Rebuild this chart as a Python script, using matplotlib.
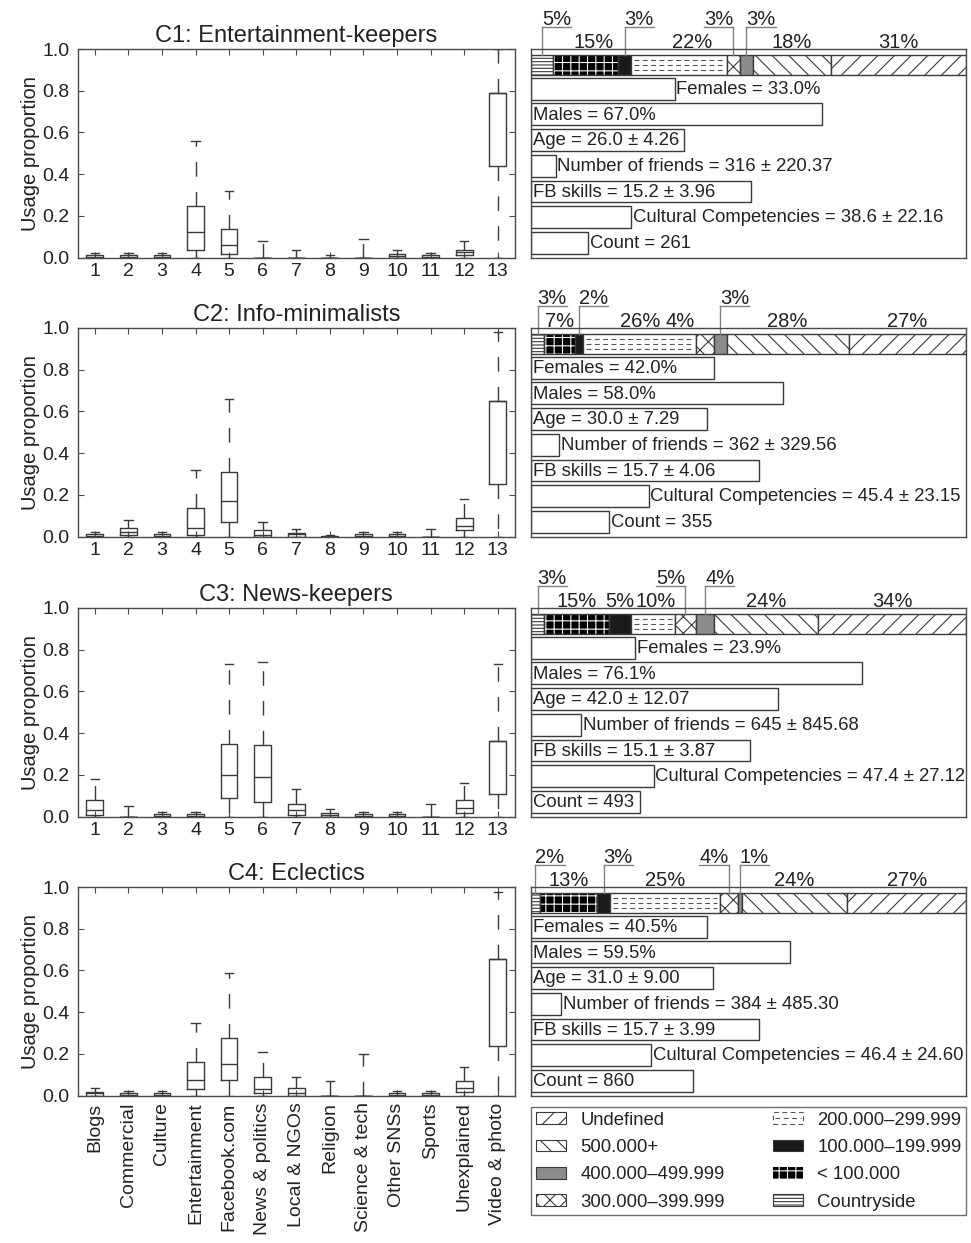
import matplotlib
matplotlib.use("Agg")
import matplotlib.pyplot as plt
from matplotlib.patches import Patch, Rectangle
from matplotlib.lines import Line2D
from matplotlib.legend_handler import HandlerBase

plt.rcParams["font.family"] = ["Liberation Sans", "DejaVu Sans"]
plt.rcParams["hatch.linewidth"] = 0.8
plt.rcParams["lines.scale_dashes"] = False

W, H, DPI = 971, 1243, 100
TEXT = "#222222"
LINE = "#3a3a3a"
SPINE = "#4a4a4a"
LEADER = "#808080"
DASHED = (0, (3.5, 2.5))

# ---- data -------------------------------------------------------------
clusters = ["C1: Entertainment-keepers", "C2: Info-minimalists",
            "C3: News-keepers", "C4: Eclectics"]
categories = ["Blogs", "Commercial", "Culture", "Entertainment", "Facebook.com",
              "News & politics", "Local & NGOs", "Religion", "Science & tech",
              "Other SNSs", "Sports", "Unexplained", "Video & photo"]

# usage proportion box statistics (lower whisker is 0 everywhere)
whisker_low = [0.0] * 13
c1_q1 = [0.0, 0.0, 0.0, 0.038, 0.019, 0.0, 0.0, 0.0, 0.0, 0.0, 0.0, 0.011, 0.44]
c1_med = [0.003, 0.003, 0.003, 0.12, 0.059, 0.0, 0.0, 0.0, 0.0, 0.005, 0.003, 0.027, 0.79]
c1_q3 = [0.011, 0.011, 0.011, 0.248, 0.139, 0.0, 0.0, 0.0, 0.0, 0.019, 0.01, 0.038, 0.79]
c1_hi = [0.021, 0.021, 0.021, 0.56, 0.32, 0.079, 0.038, 0.01, 0.088, 0.038, 0.021, 0.079, 1.0]

c2_q1 = [0.0, 0.008, 0.0, 0.008, 0.069, 0.0, 0.0, 0.0, 0.0, 0.0, 0.0, 0.029, 0.254]
c2_med = [0.003, 0.021, 0.003, 0.04, 0.168, 0.008, 0.01, 0.0, 0.003, 0.003, 0.0, 0.05, 0.648]
c2_q3 = [0.011, 0.04, 0.011, 0.138, 0.307, 0.029, 0.019, 0.002, 0.011, 0.011, 0.0, 0.088, 0.648]
c2_hi = [0.021, 0.078, 0.021, 0.318, 0.659, 0.069, 0.038, 0.008, 0.021, 0.021, 0.038, 0.179, 0.979]

c3_q1 = [0.008, 0.0, 0.0, 0.0, 0.088, 0.069, 0.008, 0.0, 0.0, 0.0, 0.0, 0.019, 0.11]
c3_med = [0.032, 0.0, 0.003, 0.003, 0.2, 0.189, 0.029, 0.008, 0.003, 0.003, 0.0, 0.04, 0.36]
c3_q3 = [0.08, 0.0, 0.011, 0.011, 0.35, 0.341, 0.059, 0.019, 0.011, 0.011, 0.0, 0.08, 0.36]
c3_hi = [0.179, 0.05, 0.021, 0.021, 0.73, 0.739, 0.13, 0.038, 0.021, 0.021, 0.059, 0.16, 0.73]

c4_q1 = [0.0, 0.0, 0.0, 0.029, 0.072, 0.01, 0.0, 0.0, 0.0, 0.0, 0.0, 0.018, 0.236]
c4_med = [0.01, 0.003, 0.003, 0.072, 0.149, 0.029, 0.01, 0.0, 0.0, 0.003, 0.003, 0.038, 0.657]
c4_q3 = [0.019, 0.011, 0.011, 0.16, 0.276, 0.089, 0.038, 0.0, 0.0, 0.011, 0.011, 0.069, 0.657]
c4_hi = [0.037, 0.021, 0.021, 0.348, 0.588, 0.208, 0.089, 0.07, 0.198, 0.021, 0.021, 0.137, 0.974]

box_q1 = [c1_q1, c2_q1, c3_q1, c4_q1]
box_med = [c1_med, c2_med, c3_med, c4_med]
box_q3 = [c1_q3, c2_q3, c3_q3, c4_q3]
box_hi = [c1_hi, c2_hi, c3_hi, c4_hi]

# town size shares (%)
town_labels = ["Countryside", "< 100.000", "100.000\u2013199.999", "200.000\u2013299.999",
               "300.000\u2013399.999", "400.000\u2013499.999", "500.000+", "Undefined"]
c1_town = [5, 15, 3, 22, 3, 3, 18, 31]
c2_town = [3, 7, 2, 26, 4, 3, 28, 27]
c3_town = [3, 15, 5, 10, 5, 4, 24, 34]
c4_town = [2, 13, 3, 25, 4, 1, 24, 27]
town_shares = [c1_town, c2_town, c3_town, c4_town]

# profile numbers
females = [33.0, 42.0, 23.9, 40.5]
males = [67.0, 58.0, 76.1, 59.5]
age_mean = [26.0, 30.0, 42.0, 31.0]
age_sd = [4.26, 7.29, 12.07, 9.00]
friends_mean = [316, 362, 645, 384]
friends_sd = [220.37, 329.56, 845.68, 485.30]
fb_mean = [15.2, 15.7, 15.1, 15.7]
fb_sd = [3.96, 4.06, 3.87, 3.99]
cc_mean = [38.6, 45.4, 47.4, 46.4]
cc_sd = [22.16, 23.15, 27.12, 24.60]
counts = [261, 355, 493, 860]
count_bar = [0.131, 0.179, 0.250, 0.373]   # count bar lengths as drawn in the source
AGE_MAX, FRIENDS_MAX, FB_MAX, CC_MAX = 74, 5600, 30, 168

# label placement of the small shares: 0 above, 1 raised to the right, -1 raised to the left
leaders = [[1, 0, 1, 0, -1, 1, 0, 0],
           [1, 0, 1, 0, 0, 1, 0, 0],
           [1, 0, 0, 0, -1, 1, 0, 0],
           [1, 0, 1, 0, -1, 1, 0, 0]]
label_shift = [[0, 0.018, 0, 0.03, 0, 0, 0, 0],
               [0, 0, 0, 0, -0.057, 0, 0, 0],
               [0, 0, 0, 0.006, 0, 0, 0, 0],
               [0, 0, 0, 0, 0, 0, 0, 0]]

seg_style = [
    dict(facecolor="white", edgecolor=LINE, hatch="-----"),
    dict(facecolor="black", edgecolor="white", hatch="++"),
    dict(facecolor="#1a1a1a", edgecolor=LINE),
    dict(facecolor="white", edgecolor=LINE),
    dict(facecolor="white", edgecolor=LINE, hatch="xx"),
    dict(facecolor="#8c8c8c", edgecolor=LINE),
    dict(facecolor="white", edgecolor=LINE, hatch="\\\\"),
    dict(facecolor="white", edgecolor=LINE, hatch="//"),
]


class DashedRowsHandler(HandlerBase):
    def create_artists(self, legend, orig_handle, xdescent, ydescent, width,
                       height, fontsize, trans):
        x0, y0 = -xdescent, -ydescent
        arts = [Rectangle((x0, y0), width, height, facecolor="white",
                          edgecolor="#555555", lw=0.8, linestyle=DASHED, transform=trans)]
        arts.append(Line2D([x0 + 2, x0 + width - 2], [y0 + 0.5 * height] * 2,
                           color="#555555", lw=0.8, linestyle=DASHED, transform=trans))
        return arts


# ---- figure -------------------------------------------------------------
fig = plt.figure(figsize=(W / DPI, H / DPI), dpi=DPI)
renderer = fig.canvas.get_renderer()
tops = [49, 328, 608, 887]
ph = 208.5

for i in range(4):
    bottom = 1 - (tops[i] + ph) / H
    axl = fig.add_axes([78 / W, bottom, 436.5 / W, ph / H])
    stats = [dict(whislo=whisker_low[j], q1=box_q1[i][j], med=box_med[i][j],
                  q3=box_q3[i][j], whishi=box_hi[i][j], fliers=[]) for j in range(13)]
    axl.bxp(stats, positions=list(range(1, 14)), widths=0.5, showfliers=False,
            manage_ticks=False,
            boxprops=dict(color=LINE, linewidth=1),
            whiskerprops=dict(color=LINE, linewidth=1, linestyle=(0, (10.5, 11))),
            capprops=dict(color=LINE, linewidth=1),
            medianprops=dict(color=LINE, linewidth=1))
    axl.set_xlim(0.5, 13.5)
    axl.set_ylim(0, 1)
    axl.set_yticks([0, 0.2, 0.4, 0.6, 0.8, 1.0])
    axl.set_yticklabels([f"{v:.1f}" for v in [0, 0.2, 0.4, 0.6, 0.8, 1.0]])
    axl.set_xticks(list(range(1, 14)))
    if i < 3:
        axl.set_xticklabels([str(k) for k in range(1, 14)])
        axl.tick_params(axis="x", pad=4)
    else:
        axl.set_xticklabels(categories, rotation=90)
        axl.tick_params(axis="x", pad=5)
    axl.tick_params(direction="in", top=True, right=True, length=4, width=0.8,
                    color=SPINE, labelsize=14, labelcolor=TEXT)
    axl.tick_params(axis="y", pad=6)
    for sp in axl.spines.values():
        sp.set_color(SPINE)
        sp.set_linewidth(1)
    axl.set_title(clusters[i], fontsize=17, color=TEXT, pad=5)
    axl.set_ylabel("Usage proportion", fontsize=14.5, color=TEXT)
    axl.yaxis.set_label_coords(-0.088, 0.5)

    # ---- profile panel
    axr = fig.add_axes([531 / W, bottom, 435 / W, ph / H])
    axr.set_xlim(0, 1)
    axr.set_ylim(7.57, -0.54)
    axr.set_xticks([])
    axr.set_yticks([])
    for sp in axr.spines.values():
        sp.set_color(SPINE)
        sp.set_linewidth(1)

    shares = town_shares[i]
    total = float(sum(shares))
    y0, bh = 0.08, 0.78
    left = 0.0
    for k, s in enumerate(shares):
        w = s / total
        st = seg_style[k]
        if k == 1:
            axr.barh(y0, w, left=left, height=bh, linewidth=0, **st)
            axr.barh(y0, w, left=left, height=bh, fill=False, edgecolor=LINE, linewidth=1)
        else:
            axr.barh(y0, w, left=left, height=bh, linewidth=1, **st)
        if k == 3:
            for f in (0.25, 0.5, 0.75):
                axr.hlines(y0 - bh / 2 + f * bh, left + 0.006, left + w - 0.006,
                           colors="#555555", linewidth=0.8, linestyles=DASHED)
        cx = left + w / 2
        mode = leaders[i][k]
        if mode == 0:
            axr.text(cx + label_shift[i][k], -0.58, f"{s}%", ha="center", va="baseline",
                     fontsize=14.5, color=TEXT, clip_on=False)
        else:
            t = axr.text(cx, -1.47, f"{s}%", ha="left" if mode > 0 else "right",
                         va="baseline", fontsize=14.5, color=TEXT, clip_on=False)
            tw = t.get_window_extent(renderer).width / axr.bbox.width
            axr.plot([cx, cx], [-1.39, y0 - bh / 2], color=LEADER, lw=1, clip_on=False)
            axr.plot([cx, cx + mode * tw], [-1.39, -1.39], color=LEADER, lw=1, clip_on=False)
        left += w

    values = [females[i] / 100, males[i] / 100, age_mean[i] / AGE_MAX,
              friends_mean[i] / FRIENDS_MAX, fb_mean[i] / FB_MAX,
              cc_mean[i] / CC_MAX, count_bar[i]]
    texts = [f"Females = {females[i]:.1f}%", f"Males = {males[i]:.1f}%",
             f"Age = {age_mean[i]:.1f} \u00b1 {age_sd[i]:.2f}",
             f"Number of friends = {friends_mean[i]} \u00b1 {friends_sd[i]:.2f}",
             f"FB skills = {fb_mean[i]:.1f} \u00b1 {fb_sd[i]:.2f}",
             f"Cultural Competencies = {cc_mean[i]:.1f} \u00b1 {cc_sd[i]:.2f}",
             f"Count = {counts[i]}"]
    rows = list(range(1, 8))
    axr.barh(rows, values, height=0.85, color="white", edgecolor=LINE, linewidth=1)
    for y, v, txt in zip(rows, values, texts):
        t = axr.text(0.005, y + 0.03, txt, ha="left", va="center", fontsize=13.3,
                     color=TEXT, clip_on=False)
        tw = t.get_window_extent(renderer).width / axr.bbox.width
        if 0.005 + tw > v + 0.004:
            t.set_x(v + 0.004)

# ---- legend
axg = fig.add_axes([531 / W, 1 - 1215 / H, 435 / W, 108 / H])
axg.axis("off")
order = [7, 6, 5, 4, 3, 2, 1, 0]
handles = []
for k in order:
    st = seg_style[k]
    if k == 1:
        handles.append(Patch(linewidth=0, **st))
    elif k == 3:
        handles.append(Patch(facecolor="white"))
    else:
        handles.append(Patch(linewidth=0.8, **st))
labels = [town_labels[k] for k in order]
leg = axg.legend(handles, labels, loc="upper left", bbox_to_anchor=(0, 0, 1, 1),
                 mode="expand", borderaxespad=0, ncol=2, fontsize=13.3,
                 handlelength=1.66, handleheight=0.6, handletextpad=0.75,
                 labelspacing=0.56, borderpad=0.25, frameon=True, fancybox=False,
                 edgecolor=SPINE, handler_map={handles[4]: DashedRowsHandler()})
leg.get_frame().set_linewidth(1)
for t in leg.get_texts():
    t.set_color(TEXT)

fig.savefig("out.png", dpi=DPI)
